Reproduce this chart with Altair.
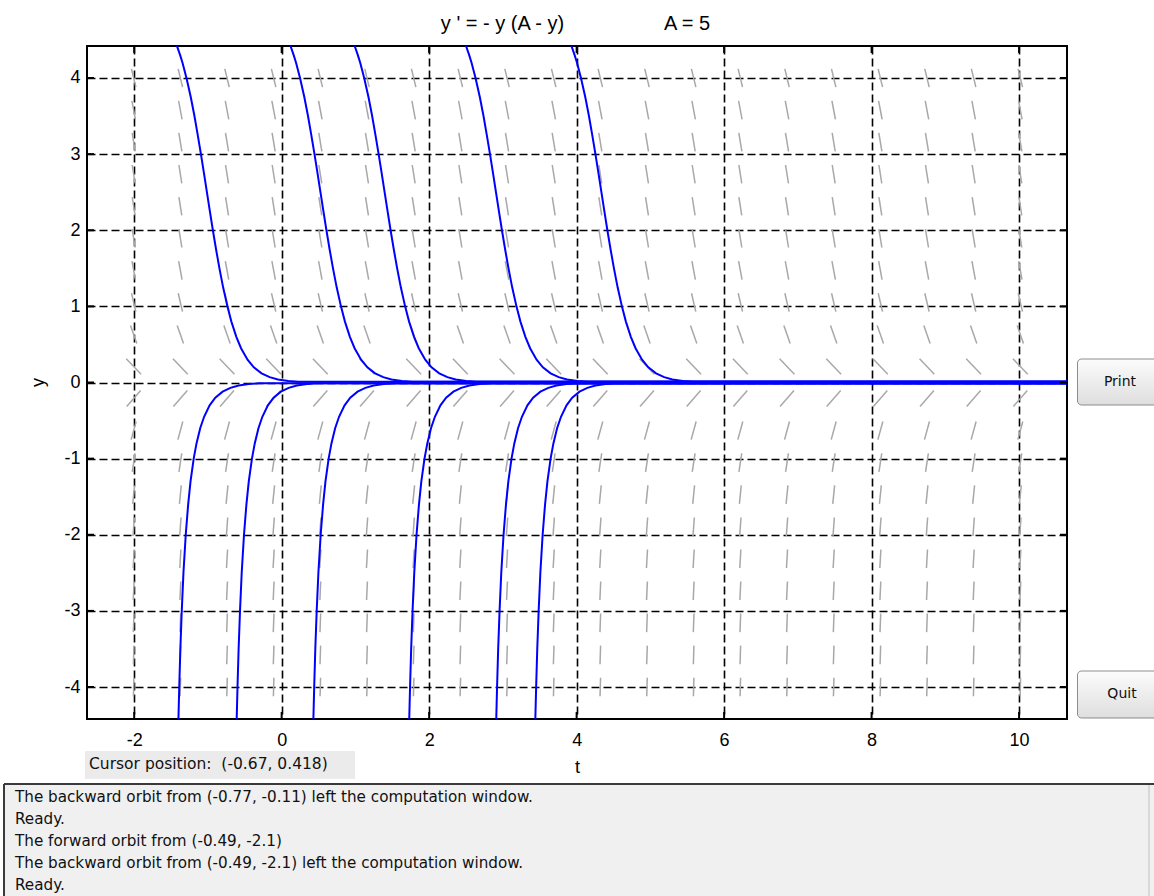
import math
import altair as alt
import pandas as pd

# ---------------- data ----------------
T_MIN, T_MAX = -2.64, 10.65
Y_MIN, Y_MAX = -4.42, 4.42

x_ticks = [-2, 0, 2, 4, 6, 8, 10]
y_ticks = [-4, -3, -2, -1, 0, 1, 2, 3, 4]

# direction-field grid (columns in t, rows in y) and slope of each row
field_t = [-2.007, -1.374, -0.741, -0.109, 0.524, 1.157, 1.790, 2.423, 3.056, 3.689,
           4.321, 4.954, 5.587, 6.220, 6.853, 7.486, 8.119, 8.751, 9.384, 10.017]
field_y = [-3.999, -3.578, -3.157, -2.736, -2.315, -1.894, -1.473, -1.052, -0.631, -0.2105,
           0.2105, 0.631, 1.052, 1.473, 1.894, 2.315, 2.736, 3.157, 3.578, 3.999]
field_slope = [35.99, 30.69, 25.75, 21.17, 16.93, 13.06, 9.54, 6.37, 3.55, 1.10,
               -1.01, -2.76, -4.15, -5.20, -5.88, -6.22, -6.19, -5.82, -5.09, -4.00]

# solution curves: time at which each curve leaves the window (top / bottom)
upper_start_t = [-1.42, 0.12, 0.99, 2.50, 3.93]
lower_start_t = [-1.40, -0.61, 0.43, 1.73, 2.91, 3.44]

# common shape of the curves (time offset from the window edge, y)
upper_profile_dt = [-0.082, 0.0, 0.043, 0.075, 0.129, 0.187, 0.237, 0.282, 0.325, 0.366,
                    0.406, 0.446, 0.487, 0.530, 0.576, 0.626, 0.684, 0.738, 0.805, 0.869,
                    0.957, 1.042, 1.147, 1.257, 1.370, 1.510, 1.649, 16.0]
upper_profile_y = [4.6, 4.42, 4.3, 4.2, 4.0, 3.75, 3.5, 3.25, 3.0, 2.75,
                   2.5, 2.25, 2.0, 1.75, 1.5, 1.25, 1.0, 0.8, 0.6, 0.45,
                   0.3, 0.2, 0.12, 0.07, 0.04, 0.02, 0.01, 0.01]
lower_profile_dt = [-0.009, 0.0, 0.011, 0.026, 0.045, 0.068, 0.099, 0.132, 0.164, 0.207,
                    0.245, 0.295, 0.348, 0.423, 0.500, 0.599, 0.705, 0.816, 0.954, 1.092, 16.0]
lower_profile_y = [-4.8, -4.42, -4.0, -3.5, -3.0, -2.5, -2.0, -1.6, -1.3, -1.0,
                   -0.8, -0.6, -0.45, -0.3, -0.2, -0.12, -0.07, -0.04, -0.02, -0.01, -0.01]

title_left = "y ' = - y (A - y)"
title_right = "A = 5"
cursor_text = "Cursor position:\u00a0 (-0.67, 0.418)"
messages = [
    "The backward orbit from (-0.77, -0.11) left the computation window.",
    "Ready.",
    "The forward orbit from (-0.49, -2.1)",
    "The backward orbit from (-0.49, -2.1) left the computation window.",
    "Ready.",
]

# ---------------- build tables ----------------
Rx, Ry = T_MAX - T_MIN, Y_MAX - Y_MIN
SEG = 0.0275  # segment length relative to the window
seg_rows = []
for yc, s in zip(field_y, field_slope):
    h = SEG / 2 / math.hypot(1 / Rx, s / Ry)
    for tc in field_t:
        seg_rows.append({"t": tc - h, "t2": tc + h, "y": yc - h * s, "y2": yc + h * s})
seg_df = pd.DataFrame(seg_rows)

curve_rows = []
cid = 0
for t0 in upper_start_t:
    for i, (dt, yv) in enumerate(zip(upper_profile_dt, upper_profile_y)):
        curve_rows.append({"curve": cid, "o": i, "t": t0 + dt, "y": yv})
    cid += 1
for t0 in lower_start_t:
    for i, (dt, yv) in enumerate(zip(lower_profile_dt, lower_profile_y)):
        curve_rows.append({"curve": cid, "o": i, "t": t0 + dt, "y": yv})
    cid += 1
curve_df = pd.DataFrame(curve_rows)

W, H = 980, 673
FONT = "Liberation Sans"
UI_FONT = "DejaVu Sans"

xscale = alt.Scale(domain=[T_MIN, T_MAX], nice=False, zero=False)
yscale = alt.Scale(domain=[Y_MIN, Y_MAX], nice=False, zero=False)
xaxis = alt.Axis(values=x_ticks, title="t", grid=True, domain=False, ticks=False,
                 labelPadding=12, titleX=490, titleY=48, titleBaseline="middle",
                 titleAlign="center", labelExpr="'' + datum.value")
yaxis = alt.Axis(values=y_ticks, title="y", grid=True, domain=False, ticks=False,
                 labelPadding=7, titleX=-49, titleY=336, titleBaseline="middle",
                 titleAlign="center", titleAngle=-90, labelExpr="'' + datum.value")

field = alt.Chart(seg_df).mark_rule(color="#a8a8a8", strokeWidth=1.5).encode(
    x=alt.X("t:Q", scale=xscale, axis=xaxis),
    x2="t2:Q",
    y=alt.Y("y:Q", scale=yscale, axis=yaxis),
    y2="y2:Q",
)

curves = alt.Chart(curve_df).mark_line(color="#0000ff", strokeWidth=2, clip=True).encode(
    x=alt.X("t:Q", scale=xscale, axis=xaxis),
    y=alt.Y("y:Q", scale=yscale, axis=yaxis),
    detail="curve:N",
    order="o:Q",
)

xt_df = pd.DataFrame({"t": x_ticks})
yt_df = pd.DataFrame({"y": y_ticks})
tick_top = alt.Chart(xt_df).mark_rule(color="black", strokeWidth=2).encode(
    x=alt.X("t:Q", scale=xscale, axis=xaxis), y=alt.value(0), y2=alt.value(7))
tick_bot = alt.Chart(xt_df).mark_rule(color="black", strokeWidth=2).encode(
    x=alt.X("t:Q", scale=xscale, axis=xaxis), y=alt.value(H - 7), y2=alt.value(H))
tick_left = alt.Chart(yt_df).mark_rule(color="black", strokeWidth=2).encode(
    y=alt.Y("y:Q", scale=yscale, axis=yaxis), x=alt.value(0), x2=alt.value(7))
tick_right = alt.Chart(yt_df).mark_rule(color="black", strokeWidth=2).encode(
    y=alt.Y("y:Q", scale=yscale, axis=yaxis), x=alt.value(W - 7), x2=alt.value(W))

one = pd.DataFrame({"a": [0]})

def text_at(txt, x, y, size, font=FONT, align="left", baseline="middle", color="black"):
    return alt.Chart(one).mark_text(text=txt, font=font, fontSize=size, align=align,
                                    baseline=baseline, color=color).encode(
        x=alt.value(x), y=alt.value(y))

def rect_at(x, x2, y, y2, **kw):
    return alt.Chart(one).mark_rect(**kw).encode(
        x=alt.value(x), x2=alt.value(x2), y=alt.value(y), y2=alt.value(y2))

def rule_at(x, x2, y, y2, color, width):
    return alt.Chart(one).mark_rule(color=color, strokeWidth=width).encode(
        x=alt.value(x), x2=alt.value(x2), y=alt.value(y), y2=alt.value(y2))

title1 = text_at(title_left, 415.5, -16, 20, align="center", baseline="alphabetic")
title2 = text_at(title_right, 600, -16, 20, align="center", baseline="alphabetic")

grad = alt.Gradient(gradient="linear",
                    stops=[alt.GradientStop(color="#fcfcfc", offset=0),
                           alt.GradientStop(color="#dedede", offset=1)],
                    x1=0, x2=0, y1=0, y2=1)
btn_print = rect_at(990.5, 1090, 313, 359, fill=grad, stroke="#8c8c8c", strokeWidth=1, cornerRadius=4)
btn_quit = rect_at(990.5, 1090, 625, 672, fill=grad, stroke="#8c8c8c", strokeWidth=1, cornerRadius=4)
lbl_print = text_at("Print", 1033, 336, 14, font=UI_FONT, align="center", color="#111111")
lbl_quit = text_at("Quit", 1035, 648, 14, font=UI_FONT, align="center", color="#111111")

cursor_box = rect_at(-2, 268, 705, 733, fill="#ebebeb")
cursor_lbl = text_at(cursor_text, 2, 718, 15.5, font=UI_FONT, color="#111111")

msg_box = rect_at(-83, 1070, 738, 860, fill="#f0f0f0")
msg_top = rule_at(-83, 1070, 738, 738, "#3a3a3a", 2)
msg_left = rule_at(-83, -83, 738, 860, "#3a3a3a", 2)
msg_right = rule_at(1062, 1062, 739, 860, "#d8d8d8", 2)
msg_lines = [text_at(m, -72, 751 + 22 * i, 15.2, font=UI_FONT, color="#111111")
             for i, m in enumerate(messages)]

chart = alt.layer(
    field, curves, tick_top, tick_bot, tick_left, tick_right,
    title1, title2, btn_print, btn_quit, lbl_print, lbl_quit,
    cursor_box, cursor_lbl, msg_box, msg_top, msg_left, msg_right, *msg_lines,
).properties(
    width=W, height=H,
    padding={"left": 87, "top": 46, "right": 87, "bottom": 177},
    autosize=alt.AutoSizeParams(type="none"),
    background="white",
).configure_view(
    stroke="black", strokeWidth=2,
).configure_axis(
    labelFont=FONT, labelFontSize=18, labelColor="black",
    titleFont=FONT, titleFontSize=18, titleFontWeight="normal", titleColor="black",
    gridColor="black", gridDash=[8, 4], gridWidth=1.6, gridOpacity=1,
)

chart.save("out.html", embed_options={"renderer": "svg", "actions": False})
